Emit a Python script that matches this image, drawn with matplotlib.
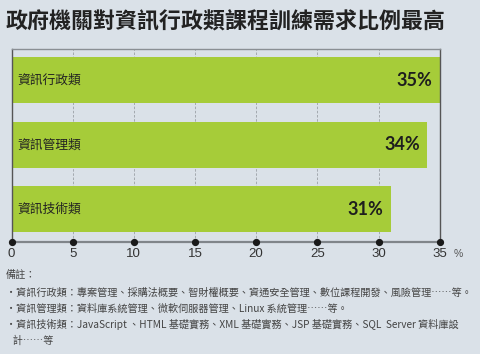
import matplotlib
matplotlib.use("Agg")
import matplotlib.pyplot as plt
import numpy as np

title = "政府機關對資訊行政類課程訓練需求比例最高"
categories = ["資訊行政類", "資訊管理類", "資訊技術類"]
values = [35, 34, 31]
xticks = [0, 5, 10, 15, 20, 25, 30, 35]
note_head = "備註："
notes = [
    "・資訊行政類：專案管理、採購法概要、智財權概要、資通安全管理、數位課程開發、風險管理……等。",
    "・資訊管理類：資料庫系統管理、微軟伺服器管理、Linux 系統管理……等。",
    "・資訊技術類：JavaScript 、HTML 基礎實務、XML 基礎實務、JSP 基礎實務、SQL  Server 資料庫設",
    "   計……等",
]

BG = "#dae1e8"
GREEN = "#a6cc39"
CJK = ["Noto Sans CJK TC", "DejaVu Sans"]

fig = plt.figure(figsize=(4.8, 3.54), dpi=100, facecolor=BG)
ax = fig.add_axes([0.024, 0.3164, 0.892, 0.5452], facecolor=BG)

y = np.arange(len(categories))
ax.barh(y, values, height=0.713, color=GREEN, zorder=2)
ax.set_xlim(0, 35)
ax.set_ylim(2.507, -0.485)

for xv in xticks[1:-1]:
    ax.axvline(xv, color="#9aa0a6", lw=0.6, ls=(0, (3, 2)), zorder=1)

for s in ["left", "right"]:
    ax.spines[s].set_color("#555555")
    ax.spines[s].set_linewidth(1.0)
ax.spines["top"].set_color("#8a8f94")
ax.spines["top"].set_linewidth(1.0)
ax.spines["bottom"].set_color("#80858a")
ax.spines["bottom"].set_linewidth(1.6)

ax.plot(xticks, [0] * len(xticks), "o", color="#1a1a1a", ms=4.2,
        transform=ax.get_xaxis_transform(), clip_on=False, zorder=5)

ax.set_yticks([])
ax.set_xticks(xticks)
ax.set_xticklabels([str(t) for t in xticks], fontsize=9.5, color="#333333",
                   family="Liberation Sans")
ax.tick_params(axis="x", length=0, pad=4)
ax.text(1.032, -0.062, "%", transform=ax.transAxes, fontsize=7.5, color="#555555",
        family="Liberation Sans", va="center", ha="left")

for yi, cat, v in zip(y, categories, values):
    ax.text(0.5, yi, cat, fontsize=9.2, color="#222222", family=CJK,
            va="center", ha="left", weight="medium", zorder=3)
    ax.annotate(f"{v}%", (v, yi), xytext=(-5.5, 0), textcoords="offset points",
                fontsize=13, weight="bold", color="#1e1e1e", family="Lato",
                va="center", ha="right", zorder=3)

fig.text(6 / 480, 1 - 22 / 354, title, fontsize=15.8, weight="bold", color="#222222",
         family=CJK, va="center", ha="left")

fig.text(6 / 480, 1 - 275 / 354, note_head, fontsize=7.3, color="#444444",
         family=CJK, va="center", ha="left")
note_y = [293, 309, 325, 341]
for ny, line in zip(note_y, notes):
    fig.text(6 / 480, 1 - ny / 354, line, fontsize=7.3, color="#444444",
             family=CJK, va="center", ha="left")

fig.savefig("out.png", dpi=100, facecolor=BG)
